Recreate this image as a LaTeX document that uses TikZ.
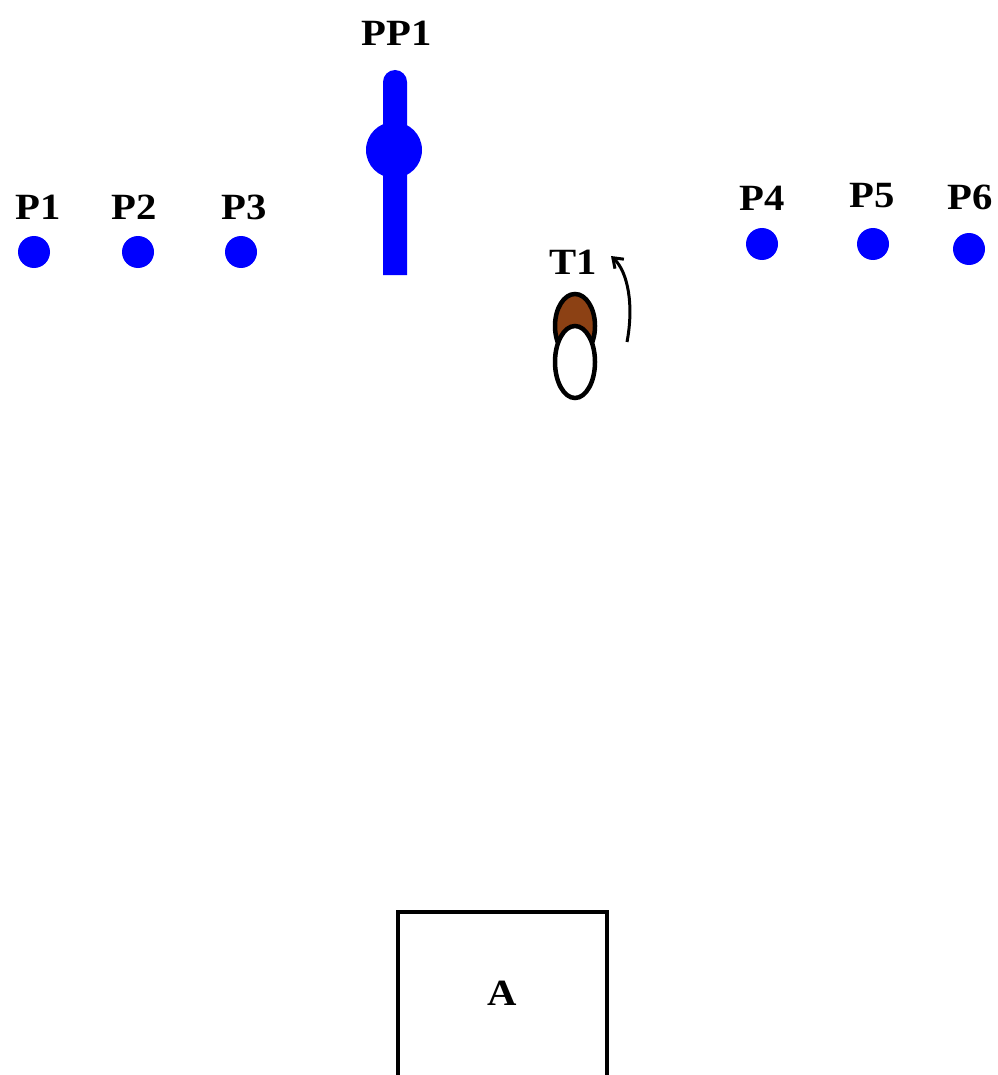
\documentclass[tikz,border=0pt]{standalone}
\usepackage{fontspec}
\setmainfont{Liberation Serif}
\usetikzlibrary{arrows.meta}
\definecolor{pblue}{RGB}{0,0,255}
\definecolor{tbrown}{RGB}{140,65,20}
\tikzset{
  lbl/.style={font=\fontsize{37}{42}\selectfont\bfseries, inner sep=0pt, xscale=1.1},
  dot/.style={circle, fill=pblue, draw=none, minimum size=32pt, inner sep=0pt},
}
\begin{document}
\begin{tikzpicture}[x=1pt,y=-1pt]
\useasboundingbox (0,0) rectangle (997,1075);
% players
\node[dot] (p1) at (34,252) {};
\node[dot] (p2) at (138,252) {};
\node[dot] (p3) at (241,252) {};
\node[dot] (p4) at (762,244) {};
\node[dot] (p5) at (873,244) {};
\node[dot] (p6) at (969,249) {};
\node[lbl] (l1) at (38,207) {P1};
\node[lbl] (l2) at (134,207) {P2};
\node[lbl] (l3) at (244,207) {P3};
\node[lbl] (l4) at (762,198) {P4};
\node[lbl] (l5) at (872,196) {P5};
\node[lbl] (l6) at (970,197) {P6};
% PP1
\node[lbl] (lpp) at (397,33) {PP1};
\fill[pblue] (383,275) -- (383,82) arc[start angle=180, end angle=360, x radius=12, y radius=12] -- (407,275) -- cycle;
\node[circle, fill=pblue, minimum size=56pt, inner sep=0pt] (pp1) at (394,150) {};
% T1
\node[lbl] (lt1) at (573,262) {T1};
\draw[line width=4.5pt, fill=tbrown] (575,326) ellipse[x radius=20, y radius=32];
\draw[line width=4.5pt, fill=white] (575,362) ellipse[x radius=20, y radius=36];
\coordinate (a0) at (627,342);
\coordinate (a1) at (611,256);
\draw[line width=3pt, -{Straight Barb[length=9pt,width=13pt]}] (a0) .. controls (634,305) and (628,272) .. (a1);
% box A
\draw[line width=4pt] (398,1085) -- (398,912) -- (607,912) -- (607,1085);
\node[lbl] (la) at (502,993) {A};
\end{tikzpicture}
\end{document}
